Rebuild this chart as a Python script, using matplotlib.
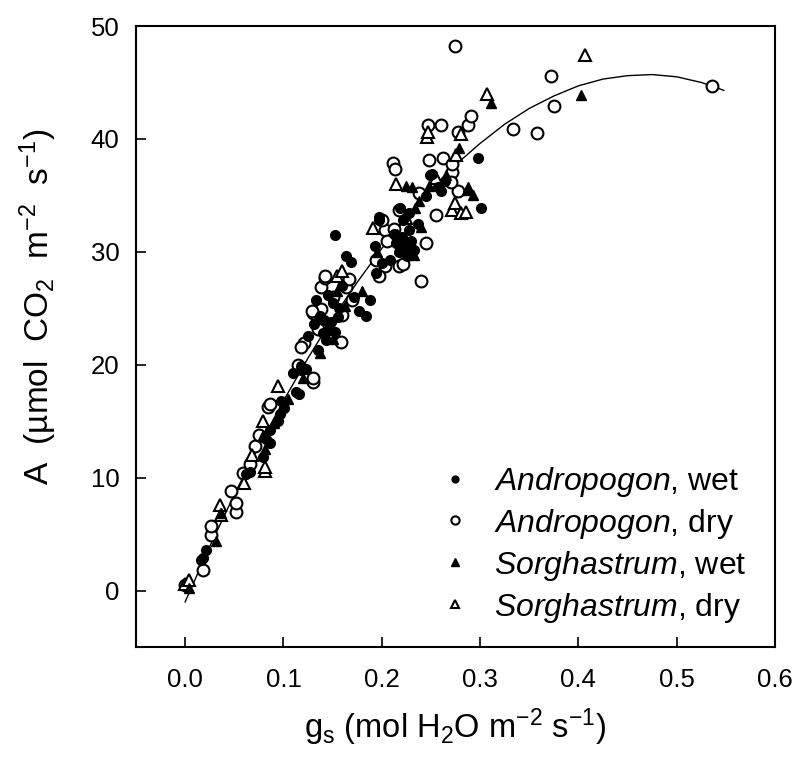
import numpy as np
import matplotlib
matplotlib.use("Agg")
import matplotlib.pyplot as plt

plt.rcParams['font.family'] = ['Liberation Sans', 'DejaVu Sans']
plt.rcParams['mathtext.fontset'] = 'custom'
plt.rcParams['mathtext.rm'] = 'Liberation Sans'
plt.rcParams['mathtext.it'] = 'Liberation Sans:italic'

# Andropogon, wet (filled circles)
andro_wet_x = [0.016, 0.021, 0.018, 0.062, 0.066, 0.079, 0.0825, 0.086, 0.086, 0.096, 0.098, 0.101,
               0.113, 0.116, 0.1096, 0.118, 0.118, 0.123, 0.135, 0.140, 0.146, 0.133, 0.150, 0.145,
               0.155, 0.152, 0.184, 0.188, 0.194, 0.164, 0.169, 0.152, 0.193, 0.197, 0.2145, 0.221,
               0.228, 0.224, 0.2216, 0.228, 0.245, 0.249, 0.2575, 0.264, 0.298, 0.301, 0.219, 0.197,
               0.260, 0.251, 0.208, 0.230, 0.237, 0.160, 0.172, 0.177, 0.125, 0.131, 0.094, 0.200,
               0.141, 0.148, 0.156, 0.143, 0.137, 0.226, 0.233, 0.218, 0.212]
andro_wet_y = [2.7, 3.6, 2.9, 10.3, 10.5, 11.8, 13.4, 14.2, 13.1, 15.6, 16.8, 16.2,
               17.6, 17.4, 19.3, 19.5, 19.85, 19.6, 21.3, 22.8, 23.1, 25.75, 25.5, 26.2,
               24.2, 22.9, 24.3, 25.7, 28.1, 29.6, 29.1, 31.5, 30.5, 32.8, 30.8, 31.3,
               31.9, 30.5, 32.8, 33.4, 34.9, 36.8, 35.7, 36.3, 38.3, 33.9, 33.9, 33.1,
               35.4, 36.9, 29.3, 31.0, 32.5, 27.0, 26.0, 24.8, 22.5, 23.6, 15.0, 29.0,
               24.0, 23.8, 25.0, 22.2, 24.3, 29.6, 30.2, 30.0, 31.6]

# Andropogon, dry (open circles)
andro_dry_x = [0.0, 0.018, 0.0265, 0.0265, 0.052, 0.052, 0.047, 0.059, 0.066, 0.0706, 0.0756, 0.084,
               0.086, 0.1147, 0.121, 0.118, 0.130, 0.1296, 0.159, 0.130, 0.138, 0.129, 0.160, 0.170,
               0.1385, 0.142, 0.164, 0.1425, 0.167, 0.1937, 0.203, 0.218, 0.240, 0.2035, 0.212, 0.205,
               0.245, 0.218, 0.2556, 0.238, 0.2114, 0.213, 0.271, 0.278, 0.2485, 0.262, 0.2716, 0.2776,
               0.288, 0.291, 0.2475, 0.260, 0.274, 0.3336, 0.3575, 0.3725, 0.3755, 0.536, 0.200, 0.197,
               0.222, 0.270, 0.150, 0.135]
andro_dry_y = [0.5, 1.86, 4.96, 5.75, 7.0, 7.75, 8.8, 10.4, 11.2, 12.8, 13.8, 16.3,
               16.5, 20.0, 21.9, 21.6, 18.5, 18.8, 22.0, 24.6, 24.9, 24.8, 24.4, 25.7,
               26.9, 27.7, 26.9, 27.9, 27.6, 29.3, 28.7, 28.7, 27.4, 31.9, 32.0, 31.0,
               30.8, 33.7, 33.3, 35.2, 37.85, 37.3, 37.1, 35.4, 38.1, 38.3, 37.8, 40.6,
               41.2, 42.0, 41.2, 41.2, 48.2, 40.9, 40.5, 45.6, 42.9, 44.7, 32.8, 27.9,
               28.9, 36.2, 26.0, 23.2]

# Sorghastrum, wet (filled triangles)
sorg_wet_x = [0.004, 0.031, 0.0367, 0.079, 0.081, 0.090, 0.137, 0.145, 0.150, 0.163, 0.154, 0.180,
              0.231, 0.2326, 0.234, 0.231, 0.2246, 0.287, 0.2875, 0.279, 0.311, 0.4026, 0.265, 0.240,
              0.215, 0.195, 0.120, 0.105, 0.293, 0.238, 0.248]
sorg_wet_y = [0.2, 4.4, 6.9, 13.8, 12.5, 14.8, 21.0, 23.5, 22.3, 25.2, 26.5, 26.5,
              29.9, 29.7, 33.9, 35.7, 35.8, 35.5, 35.7, 39.2, 43.2, 43.9, 36.8, 32.2,
              31.6, 30.0, 18.8, 17.0, 35.0, 34.5, 35.8]

# Sorghastrum, dry (open triangles)
sorg_dry_x = [0.0, 0.0044, 0.035, 0.036, 0.081, 0.0815, 0.079, 0.094, 0.154, 0.191, 0.2145, 0.271,
              0.281, 0.2747, 0.2854, 0.2465, 0.247, 0.281, 0.275, 0.307, 0.407, 0.068, 0.060, 0.160,
              0.225, 0.255]
sorg_dry_y = [0.55, 0.97, 7.6, 6.7, 10.6, 10.9, 15.0, 18.1, 27.9, 32.1, 36.0, 33.7,
              33.4, 34.3, 33.5, 40.2, 40.6, 40.4, 38.6, 43.95, 47.4, 12.0, 9.5, 28.3,
              33.0, 36.5]

# fitted curve
curve_x = [0.0, 0.025, 0.05, 0.075, 0.1, 0.125, 0.15, 0.175, 0.2, 0.225, 0.25, 0.275, 0.3,
           0.325, 0.35, 0.375, 0.4, 0.425, 0.45, 0.475, 0.5, 0.525, 0.548]
curve_y = [-1.0, 3.9, 8.5, 12.8, 16.8, 20.6, 24.1, 27.3, 30.3, 33.0, 35.5, 37.7, 39.6,
           41.3, 42.7, 43.8, 44.7, 45.3, 45.6, 45.7, 45.5, 45.0, 44.3]

fig = plt.figure(figsize=(7.99, 7.75), dpi=100)
ax = fig.add_axes([136/799, 128/775, 639/799, 621/775])

ax.plot(curve_x, curve_y, 'k-', lw=1.0, zorder=1)
ax.plot(andro_wet_x, andro_wet_y, 'o', ms=7, mfc='k', mec='k', ls='none',
        label=r'$\mathit{Andropogon}$, wet', zorder=3)
ax.plot(andro_dry_x, andro_dry_y, 'o', ms=8.5, mfc='white', mec='k', mew=1.5, ls='none',
        label=r'$\mathit{Andropogon}$, dry', zorder=2)
ax.plot(sorg_wet_x, sorg_wet_y, '^', ms=7.5, mfc='k', mec='k', ls='none',
        label=r'$\mathit{Sorghastrum}$, wet', zorder=3)
ax.plot(sorg_dry_x, sorg_dry_y, '^', ms=8, mfc='white', mec='k', mew=1.5, ls='none',
        label=r'$\mathit{Sorghastrum}$, dry', zorder=2)

ax.set_xlim(-0.05, 0.6)
ax.set_ylim(-5, 50)
ax.set_xticks([0.0, 0.1, 0.2, 0.3, 0.4, 0.5, 0.6])
ax.set_xticklabels(['0.0', '0.1', '0.2', '0.3', '0.4', '0.5', '0.6'])
ax.set_yticks([0, 10, 20, 30, 40, 50])
ax.tick_params(direction='in', length=7, width=1.2, labelsize=18.5, top=False, right=False)
ax.tick_params(axis='x', pad=15)
ax.tick_params(axis='y', pad=12)
for s in ax.spines.values():
    s.set_linewidth(1.5)

ax.set_xlabel(r'g$_\mathrm{s}$ (mol H$_2$O m$^{-2}$ s$^{-1}$)', fontsize=23.5)
ax.set_ylabel(r'A  (µmol  CO$_2$  m$^{-2}$  s$^{-1}$)', fontsize=24)
ax.xaxis.set_label_coords(0.5, -0.096)
ax.yaxis.set_label_coords(-0.12, 0.547)

ax.legend(loc='lower left', bbox_to_anchor=(0.44, 0.0), frameon=False, fontsize=23,
          markerscale=0.7, handlelength=1.0, handletextpad=0.7, labelspacing=0.25,
          borderaxespad=0.3)

fig.savefig('out.png', dpi=100)
